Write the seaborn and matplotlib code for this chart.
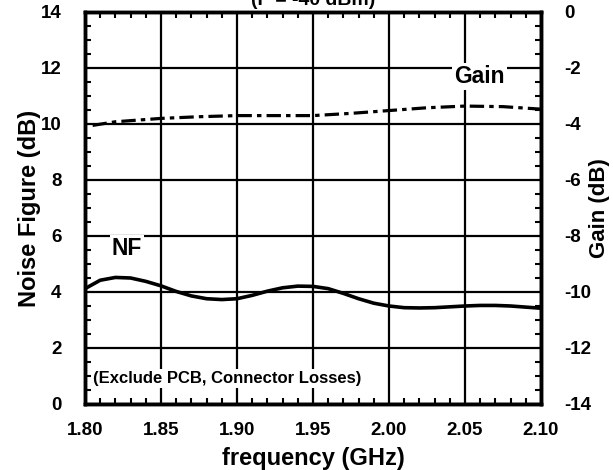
import matplotlib
matplotlib.use("Agg")
import matplotlib.pyplot as plt
from matplotlib.ticker import MultipleLocator, FormatStrFormatter
import seaborn as sns
import pandas as pd

# Noise figure versus frequency
freq_nf = [1.80, 1.81, 1.82, 1.83, 1.84, 1.85, 1.86, 1.87, 1.88, 1.89, 1.90,
           1.91, 1.92, 1.93, 1.94, 1.95, 1.96, 1.97, 1.98, 1.99, 2.00,
           2.01, 2.02, 2.03, 2.04, 2.05, 2.06, 2.07, 2.08, 2.09, 2.10]
nf_db = [4.12, 4.42, 4.52, 4.50, 4.38, 4.22, 4.02, 3.86, 3.76, 3.73, 3.76,
         3.88, 4.03, 4.15, 4.21, 4.20, 4.12, 3.95, 3.76, 3.60, 3.50,
         3.44, 3.43, 3.44, 3.47, 3.50, 3.52, 3.52, 3.50, 3.46, 3.42]

# Gain versus frequency (right axis)
freq_gain = [1.805, 1.82, 1.85, 1.875, 1.90, 1.925, 1.95, 1.975, 2.00,
             2.025, 2.05, 2.075, 2.10]
gain_db = [-4.05, -3.92, -3.80, -3.74, -3.70, -3.70, -3.70, -3.62, -3.52,
           -3.42, -3.36, -3.38, -3.47]

x_ticks = [1.80, 1.85, 1.90, 1.95, 2.00, 2.05, 2.10]
nf_ticks = [0, 2, 4, 6, 8, 10, 12, 14]
gain_ticks = [-14, -12, -10, -8, -6, -4, -2, 0]

df_nf = pd.DataFrame({"freq": freq_nf, "nf": nf_db})
df_gain = pd.DataFrame({"freq": freq_gain, "gain": gain_db})

sns.set_theme(style="white")
plt.rcParams["font.family"] = ["Liberation Sans", "DejaVu Sans"]
plt.rcParams["font.weight"] = "bold"
plt.rcParams["text.color"] = "black"
plt.rcParams["axes.labelcolor"] = "black"
plt.rcParams["axes.unicode_minus"] = False

fig = plt.figure(figsize=(6.13, 4.70), dpi=100)
ax = fig.add_axes([85 / 613, 1 - 404 / 470, 456 / 613, 392 / 470])
ax2 = ax.twinx()

sns.lineplot(data=df_nf, x="freq", y="nf", ax=ax, color="black", lw=2.6, zorder=4)
sns.lineplot(data=df_gain, x="freq", y="gain", ax=ax2, color="black", lw=2.3,
             zorder=4)
ax2.lines[0].set_dashes((4.5, 1.6, 1.4, 1.6))

ax.set_xlim(1.80, 2.10)
ax.set_ylim(0, 14)
ax2.set_ylim(-14, 0)

ax.set_xticks(x_ticks)
ax.set_yticks(nf_ticks)
ax2.set_yticks(gain_ticks)
ax.xaxis.set_major_formatter(FormatStrFormatter("%.2f"))
ax.xaxis.set_minor_locator(MultipleLocator(0.01))
ax.yaxis.set_minor_locator(MultipleLocator(0.5))
ax2.yaxis.set_minor_locator(MultipleLocator(0.5))

ax.grid(True, which="major", color="black", lw=1.6)
ax.set_axisbelow(True)

ax.tick_params(axis="both", which="both", direction="in", colors="black",
               labelsize=13.5, width=1.5)
ax.tick_params(axis="x", which="both", top=True, bottom=True)
ax.tick_params(axis="x", which="major", length=0, pad=13)
ax.tick_params(axis="y", which="major", length=0, pad=17)
ax.tick_params(which="minor", length=4.5)
ax.tick_params(axis="y", which="both", left=True, right=False)
ax2.tick_params(axis="y", which="both", direction="in", colors="black",
                labelsize=13.5, width=1.5, pad=17)
ax2.tick_params(which="major", length=0)
ax2.tick_params(which="minor", length=4.5)

for a in (ax, ax2):
    for s in a.spines.values():
        s.set_visible(True)
        s.set_color("black")
        s.set_linewidth(2.5)
    for lab in a.get_xticklabels() + a.get_yticklabels():
        lab.set_fontweight("bold")

ax.set_xlabel("frequency (GHz)", fontsize=17, fontweight="bold", labelpad=6)
ax.set_ylabel("Noise Figure (dB)", fontsize=17, fontweight="bold", labelpad=0)
ax2.set_ylabel("Gain (dB)", fontsize=16, fontweight="bold", labelpad=-2)

box = dict(facecolor="white", edgecolor="none", pad=1.5)
ax.text(1.8276, 5.55, "NF", fontsize=16.5, fontweight="bold", ha="center",
        va="center", bbox=box, zorder=5)
ax.text(2.0595, 11.7, "Gain", fontsize=16.5, fontweight="bold", ha="center",
        va="center", bbox=box, zorder=5)
ax.text(1.805, 0.9, "(Exclude PCB, Connector Losses)", fontsize=12,
        fontweight="bold", ha="left", va="center", bbox=box, zorder=5)

fig.text(0.5115, 1 - 9 / 470, "(P = -40 dBm)", fontsize=14, fontweight="bold",
         ha="center", va="bottom")

fig.savefig("out.png", dpi=100)
